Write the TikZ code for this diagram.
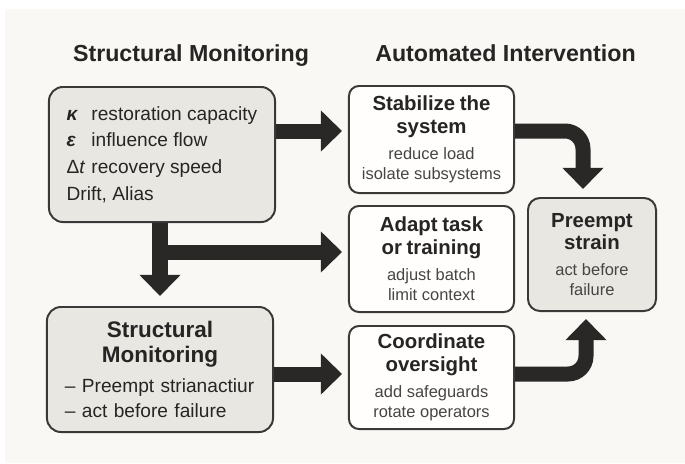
\documentclass[tikz,border=0pt]{standalone}
\usepackage{fontspec}
\setmainfont{Liberation Sans}
\usetikzlibrary{arrows.meta}

\definecolor{ink}{HTML}{262524}
\definecolor{softink}{HTML}{474543}
\definecolor{edge}{HTML}{3A3937}
\definecolor{arrowink}{HTML}{2A2827}
\definecolor{boxgray}{HTML}{E9E7E2}
\definecolor{boxwhite}{HTML}{FFFEFC}
\definecolor{paper}{HTML}{FAF8F4}

\newcommand{\glyphcol}[1]{\makebox[0.62cm][l]{#1}}
\newcommand{\headfont}{\fontsize{14.5}{16.3}\selectfont\bfseries}
\newcommand{\bodyfont}{\fontsize{11.7}{14.2}\selectfont\color{softink}}
\newcommand{\actionbox}[2]{{\headfont #1\par}\vspace{4.2pt}{\bodyfont #2\par}}

\begin{document}
\begin{tikzpicture}[x=0.025cm, y=-0.025cm,
  every node/.style={text=ink, inner sep=0pt},
  title/.style={font=\fontsize{16.5}{20}\selectfont\bfseries, anchor=base},
  panel/.style={draw=edge, line width=1.4pt, align=center},
  graybox/.style={panel, fill=boxgray, rounded corners=0.35cm, minimum width=5.65cm},
  whitebox/.style={panel, fill=boxwhite, rounded corners=0.25cm, minimum width=4.125cm, text width=3.9cm},
  bigarrow/.style={draw=arrowink, line width=0.375cm, -{Triangle[width=1cm,length=0.53cm]}}]
\fill[white] (0,0) rectangle (685,463);
\fill[paper] (5,9) rectangle (685,463);

\node[title] (lefttitle) at (191,61) {Structural Monitoring};
\node[title] (righttitle) at (505.5,61) {Automated Intervention};

\node[graybox, minimum height=3.375cm, align=left,
  font=\fontsize{13.6}{18.9}\selectfont] (mon) at (162,154.5)
  {\glyphcol{\textbf{\textit{κ}}}restoration capacity\\
   \glyphcol{\textbf{\textit{ε}}}influence flow\\
   \glyphcol{Δ\textit{t}}recovery speed\\
   Drift, Alias};
\node[graybox, minimum height=3.125cm, text width=4.75cm, align=left,
  font=\fontsize{13.6}{17.7}\selectfont] (sm) at (160,369.5)
  {{\centering\fontsize{16}{17.7}\selectfont\bfseries Structural\\Monitoring\par}\vspace{3.6pt}
   – Preempt strianactiur\\– act before failure};

\node[whitebox, minimum height=2.675cm] (stab) at (431.5,139.5)
  {\actionbox{Stabilize the\\system}{reduce load\\isolate subsystems}};
\node[whitebox, minimum height=2.65cm] (adapt) at (431.5,259)
  {\actionbox{Adapt task\\or training}{adjust batch\\limit context}};
\node[whitebox, minimum height=2.575cm] (coord) at (431.5,377.5)
  {\actionbox{Coordinate\\oversight}{add safeguards\\rotate operators}};
\node[graybox, rounded corners=0.3cm, minimum width=3.2cm, minimum height=2.825cm,
  text width=3cm] (pre) at (592,254.5)
  {\actionbox{Preempt\\strain}{act before\\failure}};

\coordinate (rowtop) at (0,131);
\coordinate (rowmid) at (0,252);
\coordinate (rowlow) at (0,374);

\draw[bigarrow, shorten >=0.15cm] (mon.east |- rowtop) -- (stab.west |- rowtop);
\draw[bigarrow, shorten >=0.25cm] (sm.north |- mon.south) -- (sm.north);
\draw[bigarrow, shorten >=0.15cm] (sm.north |- rowmid) -- (adapt.west |- rowmid);
\draw[bigarrow, shorten >=0.15cm] (sm.east |- rowlow) -- (coord.west |- rowlow);
\draw[bigarrow, rounded corners=0.45cm, shorten >=0.2cm]
  (stab.east |- rowtop) -| ([xshift=-0.225cm]pre.north);
\draw[bigarrow, rounded corners=0.45cm, shorten >=0.175cm]
  (coord.east |- rowlow) -| ([xshift=-0.15cm]pre.south);
\end{tikzpicture}
\end{document}
